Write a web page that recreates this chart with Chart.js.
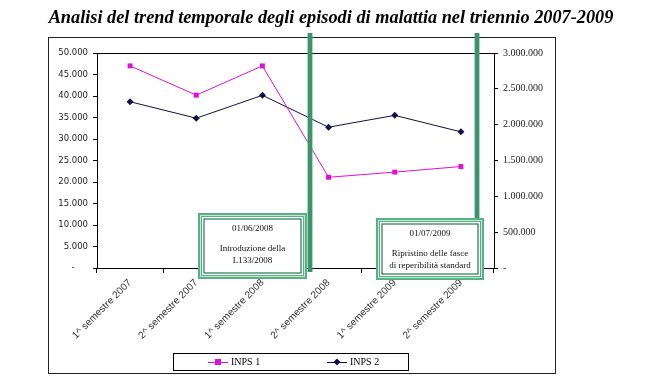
<!DOCTYPE html>
<html>
<head>
<meta charset="utf-8">
<script src="https://cdn.jsdelivr.net/npm/chart.js@4"></script>
<style>
  html, body { margin:0; padding:0; background:#fff; }
  #wrap { width:649px; height:378px; position:relative; }
</style>
</head>
<body>
<div id="wrap"><canvas id="trendChart" width="649" height="378"></canvas></div>
<script>
// ── dati ──
const TITLE = 'Analisi del trend temporale degli episodi di malattia nel triennio 2007-2009';
const SEMESTRI = ['1^ semestre 2007', '2^ semestre 2007', '1^ semestre 2008', '2^ semestre 2008', '1^ semestre 2009', '2^ semestre 2009'];
const INPS1 = [47000, 40200, 47000, 21100, 22300, 23600];          // asse sinistro
const INPS2 = [2320000, 2090000, 2410000, 1965000, 2130000, 1900000]; // asse destro
const LEFT_MAX = 50000, LEFT_STEP = 5000;
const RIGHT_MAX = 3000000, RIGHT_STEP = 500000;

// linee verticali (indice di categoria frazionario) e riquadri di nota
const EVENT_LINES = [2.72, 5.24];
const NOTES = [
  { from:1.03, to:2.67, top:12800, lines:['01/06/2008', 'Introduzione della', 'L133/2008'] },
  { from:3.72, to:5.35, top:11600, lines:['01/07/2009', 'Ripristino delle fasce', 'di reperibilità standard'] },
];

const MAGENTA = '#e010d8', NAVY = '#10104a';
const GREEN = '#58b084', GREEN_DK = '#24774f', GREEN_LT = '#c4e8d2';

function fmtIt(v, pad) {
  if (v === 0) return pad;
  return String(v).replace(/\B(?=(\d{3})+(?!\d))/g, '.');
}

function idxToPx(x, i) {
  const a = x.getPixelForValue(0), b = x.getPixelForValue(1);
  return a + (b - a) * i;
}

const framePlugin = {
  id: 'frame',
  beforeDraw(chart) {
    const ctx = chart.ctx;
    ctx.save();
    ctx.fillStyle = '#fff';
    ctx.fillRect(0, 0, chart.width, chart.height);
    // cornice esterna
    ctx.strokeStyle = '#222';
    ctx.lineWidth = 1;
    ctx.strokeRect(48.5, 37.5, 507, 336);
    // titolo
    ctx.fillStyle = '#000';
    ctx.font = 'italic bold 18.3px "Liberation Serif", "DejaVu Serif", serif';
    ctx.textAlign = 'center';
    ctx.textBaseline = 'alphabetic';
    ctx.fillText(TITLE, 331, 23);
    ctx.restore();
  },
  beforeDatasetsDraw(chart) {
    const { ctx, chartArea: a } = chart;
    ctx.save();
    ctx.strokeStyle = '#000';
    ctx.lineWidth = 1;
    ctx.beginPath();
    ctx.moveTo(a.left, Math.round(a.top) + 0.5);
    ctx.lineTo(a.right, Math.round(a.top) + 0.5);
    ctx.stroke();
    ctx.restore();
  },
  afterDatasetsDraw(chart) {
    const { ctx, chartArea: a, scales } = chart;
    const x = scales.x, y = scales.y;
    ctx.save();
    // barre verdi verticali
    EVENT_LINES.forEach(i => {
      const px = Math.round(idxToPx(x, i));
      const top = a.top - 20, h = a.bottom + 4 - top;
      ctx.fillStyle = GREEN;
      ctx.fillRect(px - 2.5, top, 5, h);
      ctx.fillStyle = GREEN_DK;
      ctx.fillRect(px - 1.5, top, 1, h);
      ctx.fillRect(px + 0.5, top, 1, h);
    });
    // riquadri di nota
    NOTES.forEach((n, k) => {
      const l = Math.round(idxToPx(x, n.from)), r = Math.round(idxToPx(x, n.to));
      const t = Math.round(y.getPixelForValue(n.top)), b = Math.round(a.bottom) + 11 + k;
      ctx.fillStyle = '#fff';
      ctx.fillRect(l, t, r - l, b - t);
      ctx.strokeStyle = GREEN;
      ctx.lineWidth = 4;
      ctx.strokeRect(l + 2, t + 2, r - l - 4, b - t - 4);
      ctx.strokeStyle = GREEN_LT;
      ctx.lineWidth = 1;
      ctx.strokeRect(l + 2.5, t + 2.5, r - l - 5, b - t - 5);
      ctx.strokeStyle = GREEN_DK;
      ctx.lineWidth = 1.2;
      ctx.strokeRect(l + 6, t + 6, r - l - 12, b - t - 12);
      ctx.fillStyle = '#111';
      ctx.font = '9px "Liberation Serif", "DejaVu Serif", serif';
      ctx.textAlign = 'center';
      ctx.textBaseline = 'middle';
      const cx = (l + r) / 2;
      ctx.fillText(n.lines[0], cx, t + 16);
      ctx.fillText(n.lines[1], cx, t + 36);
      ctx.fillText(n.lines[2], cx, t + 48);
    });
    ctx.restore();
  },
  afterDraw(chart) {
    // legenda in basso con riquadro
    const ctx = chart.ctx;
    ctx.save();
    ctx.strokeStyle = '#000';
    ctx.lineWidth = 1;
    ctx.strokeRect(173.5, 353.5, 235, 17);
    const items = [{ ds: chart.data.datasets[0], x: 208 }, { ds: chart.data.datasets[1], x: 327 }];
    items.forEach(it => {
      const yy = 362;
      ctx.strokeStyle = it.ds.borderColor;
      ctx.lineWidth = 1;
      ctx.beginPath();
      ctx.moveTo(it.x, yy + 0.5);
      ctx.lineTo(it.x + 20, yy + 0.5);
      ctx.stroke();
      ctx.fillStyle = it.ds.backgroundColor;
      if (it.ds.pointStyle === 'rect') {
        ctx.fillRect(it.x + 7, yy - 3, 6, 6);
      } else {
        ctx.beginPath();
        ctx.moveTo(it.x + 10, yy - 3.5);
        ctx.lineTo(it.x + 13.5, yy);
        ctx.lineTo(it.x + 10, yy + 3.5);
        ctx.lineTo(it.x + 6.5, yy);
        ctx.closePath();
        ctx.fill();
      }
      ctx.fillStyle = '#000';
      ctx.font = '10px "Liberation Serif", "DejaVu Serif", serif';
      ctx.textAlign = 'left';
      ctx.textBaseline = 'middle';
      ctx.fillText(it.ds.label, it.x + 23, yy);
    });
    ctx.restore();
  }
};

new Chart(document.getElementById('trendChart'), {
  type: 'line',
  data: {
    labels: SEMESTRI,
    datasets: [
      { label: 'INPS 1', data: INPS1, yAxisID: 'y', borderColor: MAGENTA, backgroundColor: MAGENTA,
        borderWidth: 1, pointStyle: 'rect', pointRadius: 3.5, pointBorderWidth: 0, tension: 0 },
      { label: 'INPS 2', data: INPS2, yAxisID: 'y2', borderColor: NAVY, backgroundColor: NAVY,
        borderWidth: 1, pointStyle: 'rectRot', pointRadius: 3.5, pointBorderWidth: 0, tension: 0 },
    ]
  },
  options: {
    responsive: false,
    animation: false,
    layout: { padding: { top: 53, left: 0, right: 0, bottom: 0 }, autoPadding: false },
    plugins: { legend: { display: false }, title: { display: false }, tooltip: { enabled: false } },
    scales: {
      x: {
        offset: true,
        afterFit: s => { s.height = 110; },
        border: { color: '#000', width: 1 },
        grid: { offset: true, drawOnChartArea: false, color: '#000', tickLength: 5 },
        ticks: { autoSkip: false, minRotation: 45, maxRotation: 45, padding: 4, color: '#333',
          font: { family: '"Liberation Sans", Arial, sans-serif', size: 10 } }
      },
      y: {
        position: 'left', min: 0, max: LEFT_MAX,
        afterFit: s => { s.width = 97; },
        border: { color: '#000', width: 1 },
        grid: { drawOnChartArea: false, color: '#000', tickLength: 4 },
        ticks: { stepSize: LEFT_STEP, padding: 5, color: '#222',
          font: { family: '"DejaVu Sans", Verdana, sans-serif', size: 8.5 },
          callback: v => fmtIt(v, '-     ') }
      },
      y2: {
        position: 'right', min: 0, max: RIGHT_MAX,
        afterFit: s => { s.width = 155; },
        border: { color: '#000', width: 1 },
        grid: { drawOnChartArea: false, color: '#000', tickLength: 4 },
        ticks: { stepSize: RIGHT_STEP, padding: 5, color: '#222',
          font: { family: '"Liberation Serif", "Times New Roman", serif', size: 10 },
          callback: v => fmtIt(v, '-') }
      }
    }
  },
  plugins: [framePlugin]
});
</script>
</body>
</html>
